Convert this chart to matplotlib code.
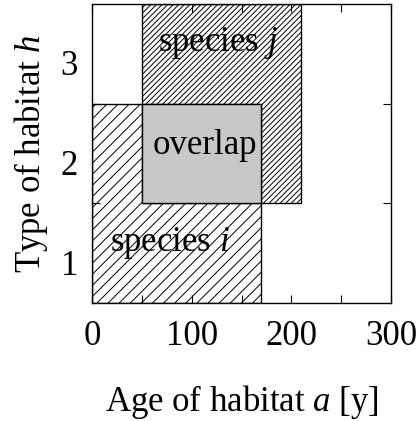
import matplotlib
matplotlib.use("Agg")
import matplotlib.pyplot as plt
from matplotlib.patches import Rectangle

plt.rcParams['font.family'] = ['Liberation Serif', 'DejaVu Serif']
plt.rcParams['mathtext.fontset'] = 'custom'
plt.rcParams['mathtext.rm'] = 'Liberation Serif'
plt.rcParams['mathtext.it'] = 'Liberation Serif:italic'
plt.rcParams['hatch.linewidth'] = 0.7

# Data: niche rectangles (age range [y], habitat-type band range)
region_names = ["species $i$", "species $j$", "overlap"]
age_start = [0, 50, 50]
age_end = [170, 210, 170]
band_start = [0, 1, 1]
band_end = [2, 3, 2]
hatches = ['///', '//////', None]
fills = [None, None, '#c8c8c8']
label_pos_age = [78, 126, 113]
label_pos_band = [0.6, 2.61, 1.58]

x_ticks_major = [0, 100, 200, 300]
x_ticks_minor = [50, 150, 250]
type_labels = ["1", "2", "3"]
type_label_pos = [0.41, 1.41, 2.41]
band_boundaries = [1, 2]

fig = plt.figure(figsize=(4.19, 4.21), dpi=100)
ax = fig.add_axes([0.2196, 0.2803, 0.7136, 0.7102])

for i in range(3):
    if fills[i] is None:
        r = Rectangle((age_start[i], band_start[i]), age_end[i] - age_start[i],
                      band_end[i] - band_start[i], fill=False, hatch=hatches[i],
                      edgecolor='black', linewidth=1.0, zorder=2 + i)
    else:
        r = Rectangle((age_start[i], band_start[i]), age_end[i] - age_start[i],
                      band_end[i] - band_start[i], facecolor=fills[i],
                      edgecolor='black', linewidth=1.0, zorder=2 + i)
    ax.add_patch(r)
    ax.text(label_pos_age[i], label_pos_band[i], region_names[i], fontsize=25,
            ha='center', va='center', zorder=10)

ax.set_xlim(0, 300)
ax.set_ylim(0, 3)
ax.set_xticks(x_ticks_major)
ax.set_xticks(x_ticks_minor, minor=True)
ax.set_yticks(type_label_pos)
ax.set_yticklabels(type_labels)
ax.set_yticks(band_boundaries, minor=True)
ax.tick_params(axis='x', which='both', direction='in', top=True, length=6,
               width=0.8, labelsize=25, pad=12)
ax.tick_params(axis='y', which='major', length=0, labelsize=25, pad=10)
ax.tick_params(axis='y', which='minor', direction='in', left=True, right=True,
               length=6, width=0.8)
for s in ax.spines.values():
    s.set_linewidth(1.0)

ax.set_xlabel("Age of habitat $a$ [y]", fontsize=25, labelpad=22)
ax.set_ylabel("Type of habitat $h$", fontsize=25, labelpad=8)

fig.savefig("out.png", dpi=100)
